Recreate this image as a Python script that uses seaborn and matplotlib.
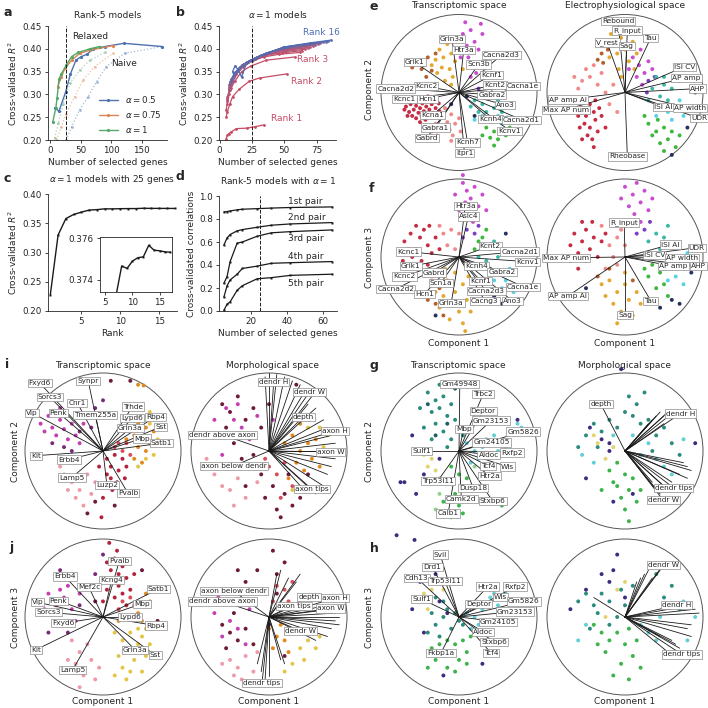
import matplotlib
matplotlib.use("Agg")
import matplotlib.pyplot as plt
import pandas as pd
import seaborn as sns

W = 708

# ---------------- panel a: rank-5 models ----------------
a_x_05 = [7, 14, 25, 33, 42, 51, 60, 70, 90, 121, 184]
a_y_05 = [0.271, 0.263, 0.305, 0.345, 0.375, 0.383, 0.388, 0.399, 0.405, 0.412, 0.405]
a_x_075 = [12, 18, 24, 35, 48, 65, 103]
a_y_075 = [0.317, 0.339, 0.357, 0.375, 0.390, 0.397, 0.407]
a_x_1 = [4, 9, 11, 14, 18, 26, 35, 46, 65, 81]
a_y_1 = [0.240, 0.271, 0.293, 0.333, 0.345, 0.364, 0.383, 0.392, 0.400, 0.405]
a_naive_x_05 = [26, 35, 48, 62, 76, 92, 122, 184]
a_naive_y_05 = [0.200, 0.229, 0.266, 0.295, 0.328, 0.361, 0.390, 0.405]
a_naive_x_075 = [10, 18, 26, 40, 54, 73, 103]
a_naive_y_075 = [0.200, 0.229, 0.258, 0.295, 0.332, 0.361, 0.390]
a_naive_x_1 = [7, 13, 21, 32, 48, 65, 90]
a_naive_y_1 = [0.204, 0.237, 0.280, 0.324, 0.353, 0.375, 0.392]

# ---------------- panel b: alpha = 1 models ----------------
b_x = {
    1: [5, 6, 7, 9, 13, 21, 27, 34],
    2: [5, 6, 8, 10, 15, 23, 31, 52],
    3: [5, 7, 9, 12, 17, 24, 36, 58],
    4: [6, 8, 10, 13, 18, 25, 34, 46, 62],
    5: [6, 8, 10, 13, 18, 26, 36, 48, 64],
    6: [6, 8, 11, 14, 19, 27, 37, 50, 66],
    7: [6, 9, 11, 15, 20, 28, 38, 52, 68],
    8: [6, 9, 12, 15, 20, 29, 40, 54, 70],
    9: [7, 9, 12, 16, 21, 30, 42, 56, 72],
    10: [7, 10, 13, 16, 22, 31, 43, 58, 74],
    11: [7, 10, 13, 17, 23, 32, 45, 60, 76],
    12: [8, 10, 14, 17, 24, 33, 46, 62, 78],
    13: [8, 11, 14, 18, 25, 34, 48, 64, 80],
    14: [9, 11, 15, 19, 26, 35, 49, 66, 82],
    15: [9, 12, 15, 20, 27, 36, 50, 68, 84],
    16: [10, 12, 14, 17, 21, 28, 38, 52, 70, 86],
}
b_y = {
    1: [0.203, 0.210, 0.214, 0.218, 0.225, 0.226, 0.229, 0.233],
    2: [0.250, 0.262, 0.280, 0.295, 0.311, 0.329, 0.336, 0.345],
    3: [0.265, 0.300, 0.315, 0.330, 0.350, 0.362, 0.375, 0.382],
    4: [0.280, 0.310, 0.330, 0.345, 0.360, 0.373, 0.382, 0.388, 0.392],
    5: [0.285, 0.312, 0.335, 0.350, 0.363, 0.376, 0.386, 0.391, 0.396],
    6: [0.290, 0.315, 0.340, 0.352, 0.366, 0.378, 0.388, 0.394, 0.399],
    7: [0.290, 0.320, 0.338, 0.355, 0.368, 0.380, 0.390, 0.397, 0.402],
    8: [0.295, 0.322, 0.342, 0.356, 0.368, 0.381, 0.392, 0.399, 0.404],
    9: [0.310, 0.325, 0.345, 0.358, 0.370, 0.383, 0.394, 0.401, 0.407],
    10: [0.315, 0.330, 0.348, 0.360, 0.372, 0.384, 0.395, 0.403, 0.409],
    11: [0.320, 0.335, 0.350, 0.362, 0.374, 0.386, 0.397, 0.405, 0.411],
    12: [0.325, 0.338, 0.352, 0.364, 0.375, 0.387, 0.399, 0.406, 0.413],
    13: [0.328, 0.340, 0.355, 0.365, 0.376, 0.388, 0.401, 0.408, 0.415],
    14: [0.330, 0.345, 0.356, 0.367, 0.377, 0.389, 0.403, 0.410, 0.416],
    15: [0.333, 0.348, 0.358, 0.368, 0.378, 0.390, 0.404, 0.411, 0.417],
    16: [0.350, 0.363, 0.355, 0.338, 0.370, 0.380, 0.392, 0.405, 0.413, 0.419],
}

# ---------------- panel c: rank sweep ----------------
c_rank = list(range(1, 18))
c_r2 = [0.228, 0.330, 0.358, 0.365, 0.369, 0.3725, 0.3733, 0.37466, 0.37455,
        0.3749, 0.37506, 0.3751, 0.37565, 0.37542, 0.37539, 0.37534, 0.37532]

# ---------------- panel d: canonical correlations ----------------
d_genes = [5, 6.8, 8.5, 12.4, 15.3, 23.5, 31.5, 42, 65.4]
d_pairs = {
    "1st pair": [0.861, 0.865, 0.870, 0.880, 0.885, 0.890, 0.895, 0.900, 0.905],
    "2nd pair": [0.572, 0.636, 0.665, 0.697, 0.708, 0.728, 0.746, 0.757, 0.769],
    "3rd pair": [0.240, 0.300, 0.430, 0.590, 0.600, 0.650, 0.680, 0.690, 0.705],
    "4th pair": [0.120, 0.220, 0.270, 0.320, 0.370, 0.390, 0.415, 0.420, 0.430],
    "5th pair": [0.005, 0.060, 0.080, 0.180, 0.220, 0.280, 0.290, 0.310, 0.320],
}
d_label_y = [0.95, 0.81, 0.63, 0.47, 0.24]

# ---------------- biplots: cell coordinates (unit circle) ----------------
e_tx_cells = {
    "Pvalb": [(-0.68, -0.18), (-0.64, -0.25), (-0.62, -0.15), (-0.6, -0.3), (-0.58, -0.22), (-0.55, -0.17),
              (-0.55, -0.33), (-0.52, -0.26), (-0.5, -0.2), (-0.48, -0.3), (-0.47, -0.14), (-0.45, -0.24),
              (-0.43, -0.35), (-0.42, -0.18), (-0.4, -0.28), (-0.38, -0.22), (-0.36, -0.32), (-0.35, -0.15),
              (-0.33, -0.26), (-0.3, -0.2), (-0.28, -0.3), (-0.26, -0.14), (-0.6, -0.1), (-0.66, -0.3),
              (-0.5, -0.38), (-0.45, -0.08), (-0.25, -0.24), (-0.4, -0.05), (-0.53, -0.1), (-0.7, -0.22)],
    "Lamp5": [(-0.2, -0.3), (-0.15, -0.38), (-0.1, -0.28), (-0.12, -0.48), (-0.05, -0.4), (-0.22, -0.45),
              (0.0, -0.33), (-0.3, -0.4), (-0.08, -0.55), (-0.18, -0.2), (0.02, -0.5), (-0.35, -0.5),
              (-0.28, -0.55), (-0.1, -0.62)],
    "Sst": [(-0.25, 0.55), (-0.2, 0.45), (-0.15, 0.62), (-0.1, 0.5), (-0.05, 0.4), (-0.22, 0.32), (-0.12, 0.3),
            (-0.3, 0.42), (0.0, 0.55), (-0.08, 0.2), (-0.18, 0.15), (0.05, 0.3), (-0.02, 0.65), (-0.28, 0.25),
            (-0.35, 0.35), (-0.1, 0.1)],
    "SstChodl": [(-0.55, 0.4), (-0.45, 0.35), (-0.4, 0.45), (-0.35, 0.28), (-0.48, 0.3), (-0.3, 0.5),
                 (-0.6, 0.32), (-0.42, 0.2)],
    "Vip": [(0.05, 0.75), (0.1, 0.6), (0.15, 0.8), (0.2, 0.65), (0.12, 0.45), (0.25, 0.55), (0.08, 0.9),
            (0.3, 0.75), (0.18, 0.35), (0.02, 0.45), (0.22, 0.25), (0.35, 0.4), (0.15, 0.2), (0.28, 0.88)],
    "Sncg": [(0.3, 0.2), (0.38, 0.1), (0.25, 0.05), (0.32, 0.32), (0.42, 0.25)],
    "L23IT": [(0.2, -0.1), (0.3, -0.15), (0.4, -0.05), (0.35, -0.25), (0.5, -0.1), (0.45, -0.2), (0.25, -0.25),
              (0.55, -0.25), (0.6, -0.15), (0.15, -0.18)],
    "L5IT": [(0.3, -0.3), (0.4, -0.38), (0.5, -0.3), (0.55, -0.4), (0.62, -0.32), (0.2, -0.35)],
    "L6IT": [(0.35, -0.45), (0.45, -0.5), (0.55, -0.48), (0.4, -0.58), (0.5, -0.6), (0.6, -0.55), (0.3, -0.55),
             (0.65, -0.45), (0.45, -0.68)],
    "other": [(0.2, -0.3), (0.6, 0.05), (0.1, -0.05), (0.42, 0.0), (-0.1, -0.15)],
}
e_ep_cells = {
    "Pvalb": [(-0.55, -0.2), (-0.5, -0.3), (-0.45, -0.15), (-0.4, -0.25), (-0.52, -0.4), (-0.45, -0.45),
              (-0.38, -0.35), (-0.6, -0.3), (-0.35, -0.5), (-0.48, -0.55), (-0.42, -0.6), (-0.3, -0.3),
              (-0.58, -0.45), (-0.33, -0.2), (-0.5, -0.08), (-0.38, -0.1), (-0.4, -0.7), (-0.55, -0.6),
              (-0.25, -0.45)],
    "Lamp5": [(-0.55, 0.15), (-0.45, 0.2), (-0.6, 0.05), (-0.35, 0.1), (-0.5, 0.3), (-0.3, 0.25), (-0.25, 0.0),
              (-0.2, -0.15), (-0.15, 0.1), (-0.4, 0.35), (-0.65, 0.2), (-0.1, -0.25)],
    "Sst": [(-0.15, 0.6), (-0.1, 0.5), (-0.05, 0.7), (0.0, 0.55), (-0.2, 0.45), (0.05, 0.4), (0.1, 0.65),
            (-0.08, 0.3), (0.15, 0.5), (-0.25, 0.6), (0.02, 0.8), (-0.18, 0.75), (0.12, 0.3), (-0.05, 0.2)],
    "SstChodl": [(-0.3, 0.5), (-0.28, 0.38), (-0.22, 0.55), (-0.35, 0.42)],
    "Vip": [(0.1, 0.45), (0.18, 0.35), (0.2, 0.55), (0.25, 0.25), (0.3, 0.4), (0.15, 0.2), (0.05, 0.3),
            (0.35, 0.3), (0.22, 0.1)],
    "Sncg": [(0.3, 0.15), (0.38, 0.2), (0.28, 0.0)],
    "L23IT": [(0.35, 0.05), (0.45, -0.05), (0.5, 0.1), (0.4, 0.2), (0.55, -0.1), (0.6, 0.05), (0.3, -0.1),
              (0.5, 0.2)],
    "L5IT": [(0.45, -0.2), (0.55, -0.25), (0.65, -0.2), (0.6, -0.35), (0.7, -0.1), (0.75, -0.3), (0.4, -0.3)],
    "L6IT": [(0.3, -0.4), (0.4, -0.5), (0.5, -0.45), (0.55, -0.6), (0.45, -0.65), (0.6, -0.5), (0.35, -0.55),
             (0.65, -0.7), (0.5, -0.75), (0.7, -0.55), (0.25, -0.3), (0.42, -0.35)],
    "other": [(0.8, -0.45), (0.85, -0.2), (0.7, 0.15), (0.6, -0.8), (0.9, 0.0)],
}
f_tx_cells = {
    "Vip": [(0.05, 0.95), (0.1, 0.85), (0.15, 0.75), (0.2, 0.9), (0.08, 0.7), (0.25, 0.65), (0.0, 0.6),
            (0.12, 0.55), (0.3, 0.8), (0.18, 0.45), (0.05, 1.05), (0.22, 0.55), (0.35, 0.6), (-0.05, 0.8)],
    "Sncg": [(0.1, 0.35), (0.2, 0.3), (0.05, 0.25), (0.25, 0.4)],
    "Pvalb": [(-0.7, 0.2), (-0.62, 0.3), (-0.55, 0.1), (-0.5, 0.25), (-0.45, 0.35), (-0.6, 0.0), (-0.4, 0.15),
              (-0.35, 0.05), (-0.48, -0.05), (-0.3, 0.25), (-0.55, 0.4), (-0.65, 0.1), (-0.25, 0.1),
              (-0.4, -0.1), (-0.72, -0.05), (-0.38, 0.4)],
    "Lamp5": [(-0.2, 0.3), (-0.1, 0.35), (-0.15, 0.15), (-0.05, 0.1), (-0.25, 0.4), (0.0, 0.3), (-0.3, -0.2),
              (-0.35, -0.3)],
    "Sst": [(-0.15, -0.3), (-0.05, -0.45), (0.05, -0.35), (-0.1, -0.6), (0.0, -0.7), (-0.2, -0.5), (0.1, -0.55),
            (-0.12, -0.8), (0.05, -0.85), (-0.25, -0.65), (0.15, -0.7), (-0.05, -0.2), (-0.3, -0.45),
            (0.08, -0.95), (-0.18, -0.15), (0.12, -0.25)],
    "SstChodl": [(-0.25, -0.4), (-0.3, -0.6), (-0.4, -0.55), (-0.2, -0.75)],
    "L23IT": [(0.3, 0.15), (0.4, 0.1), (0.5, 0.0), (0.45, 0.2), (0.35, -0.05), (0.55, 0.1), (0.25, 0.0)],
    "L6IT": [(0.2, 0.1), (0.3, 0.25), (0.35, 0.35), (0.25, 0.2), (0.4, -0.15)],
    "L5IT": [(0.5, -0.2), (0.6, -0.3), (0.55, -0.4), (0.65, -0.15), (0.45, -0.3), (0.7, -0.45)],
    "other": [(0.45, -0.5), (0.55, -0.6), (-0.3, -0.75), (0.6, 0.3)],
}
f_ep_cells = {
    "Vip": [(0.0, 0.9), (0.1, 0.8), (0.15, 0.95), (0.2, 0.7), (0.05, 0.65), (0.25, 0.85), (0.3, 0.6),
            (0.12, 0.55), (-0.05, 0.75), (0.2, 0.45), (0.35, 0.75), (0.08, 0.4)],
    "Sncg": [(0.25, 0.35), (0.32, 0.45), (0.15, 0.3)],
    "Pvalb": [(-0.7, 0.15), (-0.65, 0.3), (-0.6, 0.05), (-0.55, 0.2), (-0.5, 0.35), (-0.45, 0.1), (-0.4, 0.25),
              (-0.5, -0.05), (-0.35, 0.0), (-0.3, 0.2), (-0.6, -0.15), (-0.42, 0.45), (-0.25, 0.3),
              (-0.7, -0.05), (-0.55, 0.45)],
    "Lamp5": [(-0.2, 0.15), (-0.1, 0.25), (-0.15, 0.0), (-0.25, -0.15), (0.0, 0.15), (-0.1, -0.1), (-0.3, 0.4),
              (-0.05, 0.35)],
    "Sst": [(-0.2, -0.3), (-0.1, -0.45), (0.0, -0.35), (-0.15, -0.6), (-0.05, -0.7), (0.05, -0.55),
            (-0.25, -0.5), (0.1, -0.75), (-0.1, -0.85), (0.15, -0.45), (-0.3, -0.35), (0.0, -0.2), (0.2, -0.6)],
    "SstChodl": [(-0.2, -0.15), (-0.35, -0.25), (0.1, -0.3)],
    "L23IT": [(0.3, 0.2), (0.4, 0.3), (0.5, 0.25), (0.45, 0.1), (0.35, 0.0), (0.55, 0.4), (0.6, 0.15)],
    "L5IT": [(0.6, 0.0), (0.7, -0.1), (0.65, -0.25), (0.55, -0.3), (0.75, -0.35), (0.5, -0.15), (0.8, 0.05)],
    "L6IT": [(0.35, -0.1), (0.45, -0.2), (0.3, -0.25), (0.5, -0.35), (0.4, -0.4), (0.25, -0.15), (0.55, -0.5)],
    "other": [(0.6, -0.55), (0.7, -0.6), (0.45, -0.65), (0.85, -0.2), (-0.5, -0.4)],
}
i_tx_cells = {
    "Vip": [(-0.8, 0.35), (-0.7, 0.45), (-0.65, 0.3), (-0.55, 0.4), (-0.6, 0.2), (-0.5, 0.28), (-0.45, 0.15),
            (-0.4, 0.35), (-0.75, 0.25), (-0.35, 0.2), (-0.3, 0.1), (-0.55, 0.55), (-0.25, 0.35)],
    "Vip2": [(-0.65, 0.1), (-0.5, 0.05), (-0.3, 0.25), (-0.2, 0.45), (-0.1, 0.55), (-0.15, 0.3), (0.0, 0.65),
             (-0.4, 0.0)],
    "Pvalb": [(0.05, -0.1), (0.1, -0.2), (0.15, -0.05), (0.2, -0.25), (0.1, -0.35), (0.25, -0.1), (0.05, -0.3),
              (0.18, -0.4), (0.3, -0.2), (0.12, -0.5), (0.0, -0.6), (0.22, -0.55), (-0.05, -0.2),
              (0.28, -0.35), (-0.02, -0.85)],
    "Pvalb2": [(0.15, 0.05), (0.2, 0.1), (0.25, 0.0), (0.3, 0.1), (0.35, -0.05)],
    "Sst": [(0.3, 0.15), (0.4, 0.2), (0.45, 0.05), (0.5, 0.15), (0.55, 0.0), (0.35, 0.3), (0.6, 0.1),
            (0.4, -0.1), (0.5, -0.15), (0.55, 0.3), (0.65, 0.25), (0.45, 0.35), (0.45, 0.85), (0.52, 0.84)],
    "Sst2": [(0.5, 0.4), (0.6, 0.35), (0.7, 0.15), (0.55, -0.1), (0.65, -0.05), (0.45, -0.2), (0.75, 0.3),
             (0.6, 0.5)],
    "Lamp5": [(-0.5, -0.3), (-0.4, -0.4), (-0.3, -0.5), (-0.2, -0.3), (-0.35, -0.6), (-0.15, -0.55),
              (-0.25, -0.7), (-0.45, -0.5), (-0.1, -0.4), (-0.55, -0.2)],
    "other": [(-0.2, -0.8), (0.0, -0.45), (-0.1, -0.65), (0.15, -0.7), (0.1, 0.9), (0.35, 0.9)],
}
i_mo_cells = {
    "other": [(-0.6, 0.6), (-0.5, 0.5), (-0.4, 0.7), (-0.3, 0.4), (-0.2, 0.55), (-0.55, 0.3), (-0.1, 0.3),
              (0.0, 0.6), (-0.45, 0.1), (-0.35, -0.1), (-0.2, -0.05), (-0.1, -0.3), (0.05, -0.45),
              (0.2, -0.55), (0.3, -0.7), (0.1, -0.75), (0.4, -0.6), (-0.05, -0.6), (0.25, -0.3),
              (0.15, -0.85), (-0.3, -0.45), (0.5, -0.3), (0.35, 0.85)],
    "Vip": [(-0.7, 0.4), (-0.65, 0.2), (-0.55, 0.55), (-0.45, 0.4), (-0.35, 0.3), (-0.6, -0.05), (-0.25, 0.15),
            (-0.15, 0.45), (-0.4, 0.6), (0.05, 0.4), (-0.5, -0.2)],
    "Lamp5": [(-0.7, -0.3), (-0.6, -0.45), (-0.5, -0.5), (-0.4, -0.35), (-0.3, -0.6), (-0.15, -0.4),
              (-0.8, -0.1), (-0.45, -0.7)],
    "Pvalb2": [(0.1, -0.3), (0.2, -0.15), (0.0, -0.2), (0.3, -0.45), (-0.05, -0.1), (0.15, -0.6)],
    "Sst": [(0.2, 0.1), (0.3, 0.2), (0.4, 0.0), (0.5, 0.1), (0.35, -0.15), (0.45, -0.25), (0.6, 0.15),
            (0.25, -0.35), (0.55, -0.1), (0.4, 0.35), (0.65, -0.2)],
    "Sst2": [(0.5, 0.3), (0.65, 0.3), (0.7, 0.05), (0.55, 0.45), (0.75, 0.2), (0.3, -0.5)],
}
j_tx_cells = {
    "Pvalb": [(0.05, 0.7), (0.1, 0.6), (0.15, 0.75), (0.2, 0.55), (0.25, 0.65), (0.1, 0.45), (0.2, 0.4),
              (0.3, 0.5), (0.05, 0.35), (0.15, 0.25), (0.25, 0.3), (0.35, 0.35), (0.0, 0.2), (0.3, 0.15),
              (0.18, 0.85), (0.4, 0.55), (0.08, 0.95)],
    "Pvalb2": [(0.25, 0.2), (0.35, 0.25), (0.4, 0.15), (0.2, 0.1)],
    "Vip": [(-0.8, 0.2), (-0.7, 0.3), (-0.6, 0.15), (-0.5, 0.25), (-0.65, 0.05), (-0.45, 0.4), (-0.55, 0.35),
            (-0.4, 0.1), (-0.3, 0.3), (-0.75, 0.1), (-0.35, -0.05), (-0.5, -0.1)],
    "Vip2": [(-0.6, -0.1), (-0.45, -0.2), (-0.3, 0.15), (-0.2, 0.4), (-0.1, 0.55), (-0.7, -0.2), (-0.55, 0.6),
             (0.0, 0.8)],
    "Lamp5": [(-0.4, -0.3), (-0.3, -0.45), (-0.2, -0.35), (-0.35, -0.6), (-0.25, -0.75), (-0.15, -0.55),
              (-0.45, -0.55), (-0.1, -0.8), (-0.3, -0.9), (-0.05, -0.65)],
    "Sst2": [(0.15, -0.2), (0.25, -0.3), (0.35, -0.2), (0.3, -0.45), (0.45, -0.35), (0.2, -0.5), (0.4, -0.55),
             (0.5, -0.25), (0.35, -0.7), (0.55, -0.5), (0.6, -0.35), (0.25, -0.65), (0.45, -0.15),
             (0.55, -0.15), (0.3, -0.8), (0.5, -0.7), (0.15, -0.75)],
    "Sst": [(0.3, 0.0), (0.45, 0.05), (0.5, -0.05), (0.2, -0.05), (0.6, 0.2), (0.55, 0.3)],
    "other": [(-0.1, 0.2), (0.6, -0.1), (0.7, -0.05), (0.5, 0.6)],
}
j_mo_cells = {
    "other": [(-0.6, -0.1), (-0.5, -0.2), (-0.4, -0.3), (-0.55, -0.4), (-0.3, -0.15), (-0.2, -0.35),
              (-0.45, 0.05), (-0.3, 0.45), (-0.15, 0.6), (0.1, 0.55), (0.2, 0.7), (0.05, 0.85), (0.0, -0.1),
              (0.2, -0.5), (0.1, 0.3), (-0.4, 0.6)],
    "Vip": [(-0.7, 0.05), (-0.6, -0.25), (-0.5, -0.05), (-0.4, -0.15), (-0.3, -0.35), (-0.65, 0.25),
            (-0.25, 0.1), (-0.45, 0.35)],
    "Lamp5": [(-0.5, -0.55), (-0.4, -0.65), (-0.3, -0.5), (-0.2, -0.7), (-0.35, -0.8), (-0.6, -0.6),
              (-0.15, -0.45), (-0.45, -0.75)],
    "Pvalb2": [(0.1, 0.4), (0.2, 0.35), (0.25, 0.2), (0.3, 0.45), (0.15, 0.15), (0.05, 0.2)],
    "Sst": [(0.0, -0.15), (0.1, -0.25), (0.2, -0.3), (0.15, -0.1), (0.3, -0.2), (0.05, -0.4), (0.25, -0.45)],
    "Sst2": [(0.4, -0.4), (0.5, -0.3), (0.3, -0.6), (0.45, -0.55), (0.6, -0.4), (0.55, -0.2), (0.65, -0.25),
             (0.2, -0.7)],
}
g_tx_cells = {
    "L23": [(-0.4, 0.75), (-0.3, 0.65), (-0.35, 0.5), (-0.25, 0.55), (-0.2, 0.7), (-0.15, 0.45), (-0.3, 0.35),
            (-0.1, 0.6), (-0.45, 0.3), (-0.2, 0.25), (-0.05, 0.4), (-0.35, 0.15), (-0.1, 0.15), (-0.25, 0.85),
            (0.0, 0.3), (-0.15, 0.05), (0.05, 0.2), (-0.5, 0.55)],
    "L23b": [(-0.4, 0.6), (-0.3, 0.2), (-0.15, 0.35), (-0.05, 0.8)],
    "L4": [(0.1, 0.1), (0.2, 0.0), (0.3, 0.05), (0.4, -0.05), (0.5, 0.0), (0.25, -0.1), (0.35, 0.15),
           (0.6, 0.05), (0.15, -0.15), (0.45, 0.2), (0.7, 0.25), (0.8, 0.3), (0.75, 0.35)],
    "L5": [(-0.1, -0.2), (0.0, -0.3), (0.05, -0.45), (-0.05, -0.55), (0.1, -0.35), (0.0, -0.7), (-0.15, -0.4),
           (0.1, -0.6), (-0.1, -0.85), (0.15, -0.5), (-0.2, -0.65), (0.05, -0.8), (0.55, -0.7)],
    "L5b": [(-0.25, -0.55), (-0.3, -0.75), (0.2, -0.2)],
    "L6": [(-0.35, -0.1), (-0.3, -0.25), (-0.4, -0.2), (-0.25, -0.35), (-0.45, -0.05)],
    "other": [(-0.75, -0.4), (-0.7, -0.4), (-0.55, -0.55), (-0.45, -0.3), (-0.8, -1.08), (-0.57, -1.14),
              (-0.25, -0.1), (-0.6, 0.2), (0.75, 0.4)],
}
g_mo_cells = {
    "L23": [(-0.5, 0.2), (-0.4, 0.35), (-0.3, 0.25), (-0.2, 0.4), (-0.1, 0.3), (0.0, 0.5), (0.1, 0.45),
            (0.2, 0.35), (0.3, 0.4), (-0.35, 0.05), (0.15, 0.6), (-0.25, 0.6), (0.4, 0.2), (0.5, 0.3),
            (0.6, 0.1), (0.35, 0.0), (0.7, -0.05), (0.05, 0.7), (-0.6, 0.05), (0.25, 0.75)],
    "L4": [(-0.55, -0.05), (-0.4, -0.15), (0.2, -0.05), (0.4, -0.1), (0.5, -0.2), (0.6, -0.3), (0.3, 0.1),
           (0.55, 0.5), (-0.15, 0.2), (0.1, 0.2), (0.75, 0.15)],
    "L5": [(-0.1, -0.15), (0.0, -0.3), (-0.15, -0.4), (0.05, -0.5), (-0.05, -0.6), (0.1, -0.35), (-0.2, -0.25),
           (0.0, -0.75), (0.15, -0.65), (-0.1, -0.45), (0.2, -0.5), (-0.3, -0.5), (0.05, -0.9)],
    "L6": [(-0.35, 0.1), (-0.25, -0.1), (-0.15, 0.05), (-0.4, 0.2)],
    "other": [(-0.3, 0.15), (-0.2, 0.0), (-0.45, 0.3), (-0.5, -0.35), (-0.15, -0.65), (0.1, -0.55),
              (-0.05, 1.05), (-0.2, 0.1), (0.9, 0.1)],
}
h_tx_cells = {
    "L23": [(-0.3, -0.1), (-0.2, 0.0), (-0.1, -0.15), (-0.25, -0.25), (-0.05, 0.05), (-0.15, 0.1), (0.0, -0.05),
            (-0.35, 0.05), (-0.4, -0.2), (-0.2, 0.2), (0.05, -0.1), (-0.3, 0.25)],
    "L5": [(-0.25, -0.35), (-0.15, -0.3), (-0.05, -0.35), (0.05, -0.3), (-0.2, -0.5), (-0.1, -0.45),
           (0.0, -0.55), (-0.3, -0.55), (0.1, -0.45), (-0.15, -0.65), (-0.35, -0.4), (-0.05, -0.7),
           (0.15, -0.25), (-0.4, -0.65), (0.1, -0.6)],
    "L4": [(0.1, 0.05), (0.15, 0.15), (0.2, 0.0), (0.3, 0.1), (0.25, -0.1), (0.4, 0.25), (0.5, 0.15),
           (0.35, -0.05), (0.15, -0.15), (0.6, 0.3), (0.45, 0.3)],
    "L6": [(-0.4, 0.1), (-0.45, 0.3), (-0.35, 0.35), (-0.2, 0.35)],
    "other": [(-0.5, 0.45), (-0.3, 0.55), (-0.25, 0.2), (-0.6, 0.1), (-0.45, -0.2), (-0.15, 0.05),
              (-0.2, -0.75), (0.3, -0.6)],
}
h_mo_cells = {
    "L23": [(-0.6, 0.2), (-0.5, 0.3), (-0.4, 0.15), (-0.3, 0.3), (-0.35, 0.05), (-0.2, 0.2), (-0.1, 0.0),
            (0.0, 0.15), (-0.2, -0.1), (-0.05, 0.35), (0.1, 0.4), (-0.45, -0.15), (0.5, 0.25), (0.6, 0.4),
            (0.7, 0.1), (0.4, 0.55)],
    "L5": [(-0.4, -0.1), (-0.3, -0.2), (-0.2, -0.3), (-0.1, -0.2), (0.0, -0.35), (-0.25, -0.45), (0.05, -0.15),
           (0.1, -0.5), (-0.05, -0.6), (0.15, -0.3), (-0.35, -0.35), (0.2, -0.65), (-0.15, -0.75),
           (0.05, -0.8)],
    "L4": [(-0.5, -0.1), (-0.6, -0.3), (0.2, -0.1), (0.3, -0.2), (0.4, -0.3), (0.45, 0.0), (0.8, -0.3),
           (0.9, 0.0), (0.75, 0.2)],
    "other": [(-0.1, 0.8), (-0.2, 0.45), (-0.3, 0.55), (-0.5, 0.35), (-0.15, 0.6), (-0.7, 0.1), (0.0, 0.25)],
    "L6": [(-0.1, 0.35), (0.0, 0.45), (-0.25, 0.0)],
}

# ---------------- biplots: loadings (label, x, y) ----------------
e_tx_load = [("Grin3a", -0.09, 0.69), ("Htr3a", 0.06, 0.54), ("Cacna2d3", 0.54, 0.48), ("Scn3b", 0.25, 0.36),
             ("Grik1", -0.57, 0.39), ("Kcnf1", 0.42, 0.22), ("Kcnc2", -0.42, 0.08), ("Kcnt2", 0.46, 0.10),
             ("Cacna1e", 0.82, 0.08), ("Cacna2d2", -0.81, 0.05), ("Kcnc1", -0.70, -0.08), ("Hcn1", -0.40, -0.08),
             ("Gabra2", 0.42, -0.03), ("Ano3", 0.59, -0.16), ("Kcna1", -0.34, -0.29), ("Kcnh4", 0.40, -0.34),
             ("Cacna2d1", 0.80, -0.35), ("Gabra1", -0.30, -0.45), ("Kcnv1", 0.65, -0.49), ("Gabrd", -0.41, -0.58),
             ("Kcnh7", 0.11, -0.64), ("Itpr1", 0.07, -0.78)]
e_ep_load = [("Rebound", -0.09, 0.92), ("R_input", 0.03, 0.79), ("V_rest", -0.23, 0.64), ("Sag", 0.02, 0.60),
             ("Tau", 0.33, 0.70), ("ISI CV", 0.76, 0.33), ("AP amp", 0.79, 0.19), ("AHP", 0.93, 0.05),
             ("AP amp AI", -0.73, -0.09), ("Max AP num", -0.76, -0.22), ("ISI AI", 0.49, -0.19),
             ("AP width", 0.83, -0.20), ("UDR", 0.95, -0.33), ("Rheobase", 0.03, -0.82)]
f_tx_load = [("Htr3a", 0.08, 0.65), ("Asic4", 0.12, 0.52), ("Kcnc1", -0.65, 0.07), ("Kcnt2", 0.40, 0.14),
             ("Cacna2d1", 0.78, 0.07), ("Grik1", -0.62, -0.12), ("Kcnh4", 0.23, -0.12), ("Kcnv1", 0.88, -0.06),
             ("Gabrd", -0.32, -0.20), ("Gabra2", 0.55, -0.19), ("Kcnc2", -0.70, -0.25), ("Scn1a", -0.23, -0.33),
             ("Kcnf1", 0.28, -0.31), ("Cacna1e", 0.82, -0.38), ("Cacna2d2", -0.81, -0.41), ("Hcn1", -0.44, -0.47),
             ("Cacna2d3", 0.35, -0.44), ("Grin3a", -0.10, -0.59), ("Cacng3", 0.33, -0.56), ("Ano3", 0.68, -0.56)]
f_ep_load = [("R_input", -0.01, 0.44), ("ISI AI", 0.58, 0.16), ("UDR", 0.92, 0.12), ("Max AP num", -0.76, -0.01),
             ("ISI CV", 0.38, 0.03), ("AP width", 0.73, -0.01), ("AP amp", 0.62, -0.12), ("AHP", 0.94, -0.12),
             ("AP amp AI", -0.73, -0.50), ("Tau", 0.33, -0.56), ("Sag", 0.0, -0.74)]
i_tx_load = [("Fxyd6", -0.81, 0.87), ("Synpr", -0.19, 0.90), ("Sorcs3", -0.68, 0.69), ("Cnr1", -0.33, 0.62),
             ("Vip", -0.91, 0.49), ("Penk", -0.57, 0.49), ("Tmem255a", -0.10, 0.46), ("Trhde", 0.38, 0.57),
             ("Lypd6", 0.37, 0.42), ("Rbp4", 0.67, 0.44), ("Grin3a", 0.35, 0.29), ("Sst", 0.74, 0.31),
             ("Mbp", 0.50, 0.16), ("Satb1", 0.75, 0.10), ("Kit", -0.86, -0.06), ("Erbb4", -0.44, -0.11),
             ("Lamp5", -0.40, -0.34), ("Luzp2", 0.05, -0.44), ("Pvalb", 0.32, -0.54)]
i_mo_load = [("dendr H", 0.06, 0.88), ("dendr W", 0.52, 0.76), ("depth", 0.44, 0.44), ("axon H", 0.85, 0.26),
             ("dendr above axon", -0.60, 0.21), ("axon W", 0.79, -0.01), ("axon below dendr", -0.45, -0.19),
             ("axon tips", 0.55, -0.49)]
j_tx_load = [("Pvalb", 0.21, 0.72), ("Erbb4", -0.49, 0.52), ("Kcng4", 0.11, 0.47), ("Mef2c", -0.18, 0.38),
             ("Satb1", 0.71, 0.36), ("Vip", -0.84, 0.19), ("Penk", -0.57, 0.21), ("Mbp", 0.50, 0.17),
             ("Sorcs3", -0.70, 0.06), ("Lypd6", 0.35, 0.0), ("Fxyd6", -0.51, -0.08), ("Rbp4", 0.68, -0.11),
             ("Kit", -0.86, -0.42), ("Grin3a", 0.41, -0.42), ("Sst", 0.67, -0.49), ("Lamp5", -0.39, -0.68)]
j_mo_load = [("axon below dendr", -0.45, 0.33), ("depth", 0.51, 0.26), ("axon H", 0.85, 0.24),
             ("dendr above axon", -0.60, 0.20), ("axon tips", 0.32, 0.14), ("axon W", 0.79, 0.11),
             ("dendr W", 0.40, -0.18), ("dendr tips", -0.09, -0.85)]
g_tx_load = [("Gm49948", 0.01, 0.86), ("Trbc2", 0.31, 0.73), ("Deptor", 0.31, 0.51), ("Gm23153", 0.41, 0.39),
             ("Mbp", 0.06, 0.28), ("Gm5826", 0.82, 0.25), ("Gm24105", 0.42, 0.11), ("Sulf1", -0.48, 0.0),
             ("Aldoc", 0.38, -0.05), ("Rxfp2", 0.68, -0.02), ("Tcf4", 0.37, -0.19), ("Wls", 0.62, -0.20),
             ("Htr2a", 0.39, -0.32), ("Trp53i11", -0.27, -0.38), ("Dusp18", 0.18, -0.47), ("Camk2d", 0.03, -0.62),
             ("Stxbp6", 0.43, -0.64), ("Calb1", -0.14, -0.80)]
g_mo_load = [("depth", -0.31, 0.60), ("dendr H", 0.71, 0.48), ("dendr tips", 0.62, -0.47), ("dendr W", 0.49, -0.63)]
h_tx_load = [("Svil", -0.24, 0.80), ("Drd1", -0.34, 0.64), ("Cdh13", -0.54, 0.50), ("Trp53i11", -0.18, 0.46),
             ("Htr2a", 0.37, 0.39), ("Rxfp2", 0.72, 0.39), ("Wls", 0.53, 0.26), ("Sulf1", -0.48, 0.23),
             ("Gm5826", 0.83, 0.20), ("Deptor", 0.25, 0.17), ("Gm23153", 0.72, 0.07), ("Gm24105", 0.50, -0.06),
             ("Aldoc", 0.31, -0.19), ("Stxbp6", 0.45, -0.32), ("Fkbp1a", -0.23, -0.46), ("Tcf4", 0.41, -0.46)]
h_mo_load = [("dendr W", 0.49, 0.67), ("dendr H", 0.66, 0.15), ("dendr tips", 0.73, -0.48)]

# unlabeled morphological features (line ends only)
i_mo_extra = [(-0.05, 0.95), (0.0, 1.0), (0.1, 0.98), (0.2, 0.95), (0.3, 0.9), (0.4, 0.85), (0.45, 0.75),
              (0.55, 0.7), (0.5, 0.6), (0.6, 0.55), (0.7, 0.4), (0.75, 0.3), (0.8, 0.2), (0.85, 0.1),
              (0.9, 0.0), (0.85, -0.1), (0.8, -0.2), (0.75, -0.3), (0.7, -0.45), (0.6, -0.55), (0.45, -0.5)]
j_mo_extra = [(0.75, 0.15), (0.8, 0.1), (0.85, 0.05), (0.9, 0.0), (0.85, -0.05), (0.9, -0.1), (0.8, -0.15),
              (0.75, -0.25), (0.6, -0.3), (0.1, 0.55), (0.15, 0.6), (0.25, 0.5), (0.35, 0.45), (0.4, 0.55),
              (-0.1, -0.7), (-0.05, -0.8), (0.0, -0.75), (-0.15, -0.6), (0.15, -0.55), (0.2, -0.6)]
g_mo_extra = [(0.3, 0.35), (0.35, 0.4), (0.4, 0.45), (0.45, 0.5), (0.5, 0.45), (0.55, 0.5), (0.6, 0.48),
              (0.5, 0.35), (0.8, -0.2), (0.85, -0.25), (0.75, -0.15), (0.8, -0.35), (0.7, -0.3),
              (0.4, -0.5), (0.45, -0.55), (0.5, -0.45), (0.55, -0.5), (0.35, -0.4), (0.6, -0.4)]
h_mo_extra = [(0.2, 0.5), (0.25, 0.55), (0.3, 0.6), (0.35, 0.5), (0.45, 0.6), (0.15, 0.45), (0.85, 0.15),
              (0.9, 0.1), (0.95, 0.05), (0.85, -0.1), (0.8, -0.15), (0.85, -0.25), (0.6, -0.3), (0.65, -0.35),
              (0.7, -0.4), (0.55, -0.45), (0.45, -0.25), (-0.4, 0.25)]

# colours
inh_pal = {"Pvalb": "#c62d42", "Lamp5": "#f08a8a", "Sst": "#e5a82e", "SstChodl": "#b5602a", "Vip": "#c84bd0",
           "Sncg": "#7b3fc4", "L23IT": "#3cb8a8", "L5IT": "#5ad0e6", "L6IT": "#3db83d", "other": "#25315e"}
v1_pal = {"Vip": "#c43fb0", "Vip2": "#7a2a7a", "Pvalb": "#b4233c", "Pvalb2": "#d94c5a", "Sst": "#e08a1e",
          "Sst2": "#e3c443", "Lamp5": "#ef9aa8", "other": "#6e1a3a"}
exc_pal = {"L23": "#2b8c7d", "L23b": "#1e5f66", "L4": "#62cfd6", "L5": "#3cb44b", "L5b": "#8fd18f",
           "L6": "#e3d26f", "other": "#3d2b80"}
alpha_cols = {0.5: "#4c72b0", 0.75: "#dd8452", 1: "#55a868"}

sns.set_theme(style="ticks")
plt.rcParams.update({"font.family": ["DejaVu Sans"], "font.size": 6.5, "axes.labelsize": 6.5,
                     "xtick.labelsize": 6.3, "ytick.labelsize": 6.3, "axes.linewidth": 0.6,
                     "xtick.major.width": 0.6, "ytick.major.width": 0.6,
                     "xtick.major.size": 2.5, "ytick.major.size": 2.5,
                     "xtick.major.pad": 2, "ytick.major.pad": 2})

fig = plt.figure(figsize=(7.08, 7.08), dpi=100)


def px_ax(l, t, w, h):
    return fig.add_axes([l / W, 1 - (t + h) / W, w / W, h / W])


def ftext(x, y, s, **kw):
    fig.text(x / W, 1 - y / W, s, **kw)


# ---- a ----
ax = px_ax(48, 26, 119, 114)
for a, nx, ny in [(0.5, a_naive_x_05, a_naive_y_05), (0.75, a_naive_x_075, a_naive_y_075),
                  (1, a_naive_x_1, a_naive_y_1)]:
    sns.lineplot(x=nx, y=ny, color=alpha_cols[a], ls=":", lw=0.9, marker="o", ms=2, mec="none",
                 alpha=0.5, ax=ax, label="_nolegend_")
for a, rx, ry in [(0.5, a_x_05, a_y_05), (0.75, a_x_075, a_y_075), (1, a_x_1, a_y_1)]:
    sns.lineplot(x=rx, y=ry, color=alpha_cols[a], lw=1, marker="o", ms=2.3, mec="none", ax=ax,
                 label=rf"$\alpha = {a}$")
ax.axvline(25, color="k", ls="--", lw=0.7)
ax.set_xlim(-4, 192)
ax.set_ylim(0.2, 0.45)
ax.set_xticks([0, 50, 100, 150])
ax.set_yticks([0.20, 0.25, 0.30, 0.35, 0.40, 0.45])
ax.set_yticklabels(["0.20", "0.25", "0.30", "0.35", "0.40", "0.45"])
ax.set_xlabel("Number of selected genes", labelpad=2)
ax.set_ylabel("Cross-validated $R^2$", labelpad=2)
ax.set_title("Rank-5 models", fontsize=6.5, pad=6)
ax.text(65, 0.428, "Relaxed", ha="center", va="center", fontsize=6.5)
ax.text(122, 0.367, "Naive", ha="center", va="center", fontsize=6.5)
ax.legend(loc="lower right", frameon=False, fontsize=6.3, handlelength=2.2, borderaxespad=0.2,
          labelspacing=0.45)
sns.despine(ax=ax)

# ---- b ----
ax = px_ax(219, 26, 117, 114)
rank_cols = sns.blend_palette(["#c94a62", "#b25878", "#4f6db3"], 16)
for r in range(1, 17):
    sns.lineplot(x=b_x[r], y=b_y[r], color=rank_cols[r - 1], lw=0.9, marker="o", ms=2, mec="none", ax=ax)
ax.axvline(25, color="k", ls="--", lw=0.7)
ax.set_xlim(-0.5, 90)
ax.set_ylim(0.2, 0.45)
ax.set_xticks([0, 25, 50, 75])
ax.set_yticks([0.20, 0.25, 0.30, 0.35, 0.40, 0.45])
ax.set_yticklabels(["0.20", "0.25", "0.30", "0.35", "0.40", "0.45"])
ax.set_xlabel("Number of selected genes", labelpad=2)
ax.set_ylabel("Cross-validated $R^2$", labelpad=2)
ax.set_title(r"$\alpha = 1$ models", fontsize=6.5, pad=6)
for r, tx, ty in [(16, 79, 0.436), (3, 72, 0.377), (2, 67, 0.328), (1, 52, 0.248)]:
    ax.text(tx, ty, f"Rank {r}", color=rank_cols[r - 1], ha="center", va="center", fontsize=6.5)
sns.despine(ax=ax)

# ---- c ----
ax = px_ax(48, 194, 129, 117)
sns.lineplot(x=c_rank, y=c_r2, color="k", lw=1, marker="s", ms=2, mec="none", ax=ax)
ax.set_xlim(0.7, 17.3)
ax.set_ylim(0.2, 0.4)
ax.set_xticks([5, 10, 15])
ax.set_yticks([0.20, 0.25, 0.30, 0.35, 0.40])
ax.set_yticklabels(["0.20", "0.25", "0.30", "0.35", "0.40"])
ax.set_xlabel("Rank", labelpad=2)
ax.set_ylabel("Cross-validated $R^2$", labelpad=2)
ax.set_title(r"$\alpha = 1$ models with 25 genes", fontsize=6.5, pad=9)
sns.despine(ax=ax)
axin = px_ax(100, 237, 72, 55)
sns.lineplot(x=c_rank, y=c_r2, color="k", lw=1, marker="s", ms=2, mec="none", ax=axin)
axin.set_xlim(4.0, 17.3)
axin.set_ylim(0.37342, 0.37605)
axin.set_xticks([5, 10, 15])
axin.set_yticks([0.374, 0.376])
axin.set_yticklabels(["0.374", "0.376"])
axin.tick_params(labelsize=6.3)

# ---- d ----
ax = px_ax(219, 196, 118, 115)
for (name, vals), ly in zip(d_pairs.items(), d_label_y):
    sns.lineplot(x=d_genes, y=vals, color="k", lw=0.9, marker="s", ms=2, mec="none", ax=ax)
    ax.text(40.5, ly, name, ha="left", va="center", fontsize=6.5)
ax.axvline(25, color="k", ls="--", lw=0.7)
ax.set_xlim(2.3, 68)
ax.set_ylim(0, 1)
ax.set_xticks([20, 40, 60])
ax.set_yticks([0.0, 0.2, 0.4, 0.6, 0.8, 1.0])
ax.set_xlabel("Number of selected genes", labelpad=2)
ax.set_ylabel("Cross-validated correlations", labelpad=2)
ax.set_title(r"Rank-5 models with $\alpha = 1$", fontsize=6.5, pad=9)
sns.despine(ax=ax)


# ---- biplots ----
def biplot(cx, cy, cells, pal, loads, extra=()):
    s = 85.8
    ax = px_ax(cx - s, cy - s, 2 * s, 2 * s)
    rows = [(u, v, k) for k, pts in cells.items() for (u, v) in pts]
    df = pd.DataFrame(rows, columns=["u", "v", "type"])
    sns.scatterplot(data=df, x="u", y="v", hue="type", palette=pal, s=8, linewidth=0, legend=False,
                    ax=ax, zorder=1, clip_on=False)
    ax.add_patch(plt.Circle((0, 0), 1, fill=False, ec="#555555", lw=0.7, zorder=0))
    for u, v in extra:
        ax.plot([0, u], [0, v], color="k", lw=0.6, zorder=2)
    for name, u, v in loads:
        ax.plot([0, u], [0, v], color="k", lw=0.6, zorder=2)
    for name, u, v in loads:
        ax.text(u, v, name, ha="center", va="center", fontsize=5.3, zorder=4,
                bbox=dict(boxstyle="square,pad=0.15", fc="white", ec="#8c8c8c", lw=0.5))
    ax.set_xlim(-1.1, 1.1)
    ax.set_ylim(-1.1, 1.1)
    ax.set_aspect("equal")
    ax.axis("off")
    return ax


biplot(459, 92.5, e_tx_cells, inh_pal, e_tx_load)
biplot(625, 92.5, e_ep_cells, inh_pal, e_ep_load)
biplot(459, 257, f_tx_cells, inh_pal, f_tx_load)
biplot(625, 257, f_ep_cells, inh_pal, f_ep_load)
biplot(103, 451, i_tx_cells, v1_pal, i_tx_load)
biplot(269, 451, i_mo_cells, v1_pal, i_mo_load, i_mo_extra)
biplot(103, 617, j_tx_cells, v1_pal, j_tx_load)
biplot(269, 617, j_mo_cells, v1_pal, j_mo_load, j_mo_extra)
biplot(459, 451, g_tx_cells, exc_pal, g_tx_load)
biplot(625, 451, g_mo_cells, exc_pal, g_mo_load, g_mo_extra)
biplot(459, 617, h_tx_cells, exc_pal, h_tx_load)
biplot(625, 617, h_mo_cells, exc_pal, h_mo_load, h_mo_extra)

# titles and axis captions
for x, y, s in [(459, 5, "Transcriptomic space"), (625, 5, "Electrophysiological space"),
                (103, 365, "Transcriptomic space"), (272, 365, "Morphological space"),
                (458, 365, "Transcriptomic space"), (624, 365, "Morphological space")]:
    ftext(x, y, s, ha="center", va="center", fontsize=6.5)
for x, y, s in [(370, 90, "Component 2"), (370, 257, "Component 3"), (15, 451, "Component 2"),
                (15, 617, "Component 3"), (370, 451, "Component 2"), (370, 617, "Component 3")]:
    ftext(x, y, s, ha="center", va="center", rotation=90, fontsize=6.5)
for x, y in [(459, 343), (625, 343), (103, 701), (269, 701), (459, 701), (625, 701)]:
    ftext(x, y, "Component 1", ha="center", va="center", fontsize=6.5)

for x, y, s in [(4, 12, "a"), (176, 12, "b"), (4, 178, "c"), (176, 176, "d"), (369, 6, "e"),
                (369, 189, "f"), (5, 365, "i"), (9, 548, "j"), (370, 365, "g"), (370, 548, "h")]:
    ftext(x, y, s, ha="left", va="center", fontsize=9, fontweight="bold")

fig.savefig("out.png", dpi=100)
